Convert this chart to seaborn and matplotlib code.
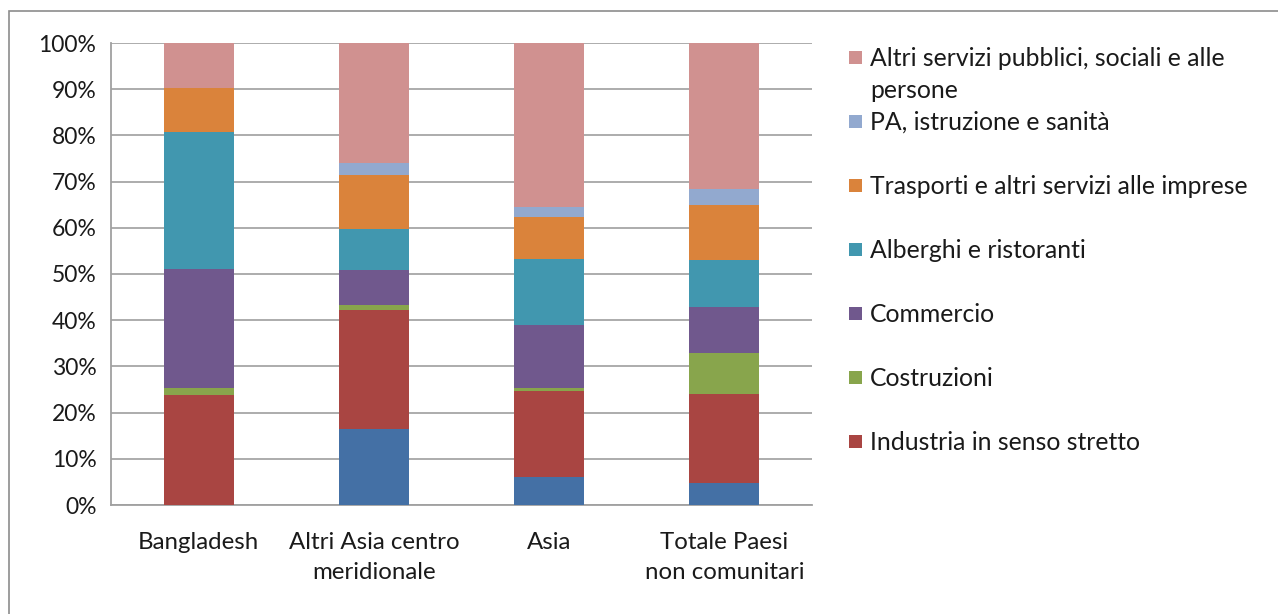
import numpy as np
import pandas as pd
import matplotlib
matplotlib.use("Agg")
import matplotlib.pyplot as plt
from matplotlib.patches import Rectangle
from matplotlib.ticker import PercentFormatter
import seaborn as sns

# categories and shares (%), bottom to top
categories = ["Bangladesh", "Altri Asia centro\nmeridionale", "Asia", "Totale Paesi\nnon comunitari"]
agricoltura = [0.0, 16.5, 6.0, 4.8]
industria = [23.8, 25.7, 18.7, 19.2]
costruzioni = [1.6, 1.1, 0.7, 8.9]
commercio = [25.7, 7.6, 13.6, 9.9]
alberghi = [29.7, 8.8, 14.3, 10.2]
trasporti = [9.4, 11.7, 9.1, 11.9]
pa = [0.0, 2.7, 2.0, 3.6]
altri = [9.8, 25.9, 35.6, 31.5]

series_names = ["Agricoltura", "Industria in senso stretto", "Costruzioni", "Commercio",
                "Alberghi e ristoranti", "Trasporti e altri servizi alle imprese",
                "PA, istruzione e sanità", "Altri servizi pubblici, sociali e alle\npersone"]
series_vals = [agricoltura, industria, costruzioni, commercio, alberghi, trasporti, pa, altri]
colors = ["#4470A5", "#A94542", "#88A54C", "#70588D", "#4197AF", "#DA833B", "#92A9CF", "#D09190"]

sns.set_theme(style="white")
plt.rcParams["font.family"] = ["Lato", "DejaVu Sans"]

df = pd.DataFrame(np.array(series_vals).T, columns=series_names)
cum = df.cumsum(axis=1)
cum["cat"] = categories

W, H = 1278, 614
fig = plt.figure(figsize=(W / 100, H / 100), dpi=100)
ax = fig.add_axes([111 / W, 109 / H, 701 / W, 462 / H])

# stacked bars: draw cumulative totals from the top series down
for name, col in reversed(list(zip(series_names, colors))):
    sns.barplot(data=cum, x="cat", y=name, color=col, width=0.4, ax=ax,
                saturation=1, edgecolor="none", linewidth=0, zorder=3)

ax.set_ylim(0, 100)
ax.set_xlim(-0.5, 3.5)
ax.set_yticks(np.arange(0, 101, 10))
ax.yaxis.set_major_formatter(PercentFormatter(decimals=0))
ax.set_xlabel("")
ax.set_ylabel("")
ax.grid(axis="y", color="#A6A6A6", linewidth=1.3, zorder=0)
ax.set_axisbelow(True)
for s in ["top", "right"]:
    ax.spines[s].set_visible(False)
for s in ["left", "bottom"]:
    ax.spines[s].set_color("#A0A0A0")
    ax.spines[s].set_linewidth(1.3)
ax.tick_params(axis="y", length=7, width=1.3, color="#A0A0A0", labelsize=16.5, pad=3.5,
               labelcolor="#1a1a1a")
ax.set_xticks(np.arange(-0.5, 4, 1), minor=True)
ax.tick_params(axis="x", which="minor", length=6, width=1.3, color="#A0A0A0")
ax.tick_params(axis="x", which="major", length=0, labelsize=17.3, pad=19.5, labelcolor="#1a1a1a")
ax.set_xticks(range(len(categories)))
ax.set_xticklabels(categories, linespacing=1.53)

# legend on the right (Agricoltura is not listed in the original)
y0 = 57
for i, (name, col) in enumerate(reversed(list(zip(series_names[1:], colors[1:])))):
    y = y0 + i * 64
    fig.patches.append(Rectangle((849 / W, 1 - (y + 7) / H), 13 / W, 13 / H,
                                 transform=fig.transFigure, facecolor=col, edgecolor="none"))
    fig.text(870 / W, 1 - (y - 10) / H, name, fontsize=17.8, color="#1a1a1a", va="top",
             ha="left", linespacing=1.48, transform=fig.transFigure)

# chart border (cropped at right and bottom)
fig.patches.append(Rectangle((9 / W, -0.1), 1.2, 1.1 - 11 / H, transform=fig.transFigure,
                             facecolor="none", edgecolor="#8C8C8C", linewidth=1.2))

fig.savefig("out.png", dpi=100)
